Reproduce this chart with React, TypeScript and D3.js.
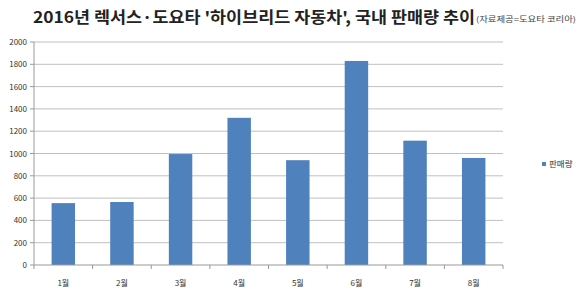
import React from "react";
import * as d3 from "d3";

const months = ["1월", "2월", "3월", "4월", "5월", "6월", "7월", "8월"];
const sales = [555, 565, 995, 1320, 940, 1830, 1115, 960];
const yTicks = [0, 200, 400, 600, 800, 1000, 1200, 1400, 1600, 1800, 2000];
const titleText = "2016년 렉서스·도요타 '하이브리드 자동차', 국내 판매량 추이";
const sourceText = "(자료제공=도요타 코리아)";
const legendLabel = "판매량";

const W = 580, H = 294;
const left = 34, right = 503, top = 42, bottom = 265;
const font = "'Noto Sans CJK KR', 'Noto Sans', sans-serif";

export default function App() {
  const x = d3.scaleBand<string>().domain(months).range([left, right]).paddingInner(0.6).paddingOuter(0.3);
  const xb = d3.scaleBand<string>().domain(months).range([left, right]);
  const y = d3.scaleLinear().domain([0, 2000]).range([bottom, top]);
  return (
    <svg width={W} height={H} style={{ position: "absolute", left: 0, top: 0, background: "#fff" }}>
      <text x={33} y={23} fontFamily={font} fontWeight="bold" fontSize={15.5} fill="#222" textLength={442} lengthAdjust="spacingAndGlyphs">{titleText}</text>
      <text x={476} y={22} fontFamily={font} fontSize={7.5} fill="#444" textLength={100} lengthAdjust="spacingAndGlyphs">{sourceText}</text>
      {yTicks.map((t) => (
        <g key={t}>
          {t > 0 && <line x1={left} x2={right} y1={y(t)} y2={y(t)} stroke="#c0c0c0" strokeWidth={1} />}
          <line x1={left - 4} x2={left} y1={y(t)} y2={y(t)} stroke="#999" />
          <text x={left - 7} y={y(t) + 3} textAnchor="end" fontFamily={font} fontSize={8} fill="#333">{t}</text>
        </g>
      ))}
      <line x1={left} x2={left} y1={top} y2={bottom} stroke="#999" />
      {months.map((m, i) => (
        <rect key={m} x={x(m)} y={y(sales[i])} width={x.bandwidth()} height={bottom - y(sales[i])} fill="#4f81bd" />
      ))}
      <line x1={left} x2={right} y1={bottom} y2={bottom} stroke="#999" />
      {months.map((m) => (
        <line key={m} x1={(xb(m) as number) + xb.bandwidth()} x2={(xb(m) as number) + xb.bandwidth()} y1={bottom} y2={bottom + 4} stroke="#999" />
      ))}
      <line x1={left} x2={left} y1={bottom} y2={bottom + 4} stroke="#999" />
      {months.map((m) => (
        <text key={m} x={(xb(m) as number) + xb.bandwidth() / 2} y={286} textAnchor="middle" fontFamily={font} fontSize={8} fill="#333">{m}</text>
      ))}
      <rect x={542} y={162} width={4} height={4} fill="#4f81bd" />
      <text x={549} y={167} fontFamily={font} fontSize={8.5} fill="#333">{legendLabel}</text>
    </svg>
  );
}
